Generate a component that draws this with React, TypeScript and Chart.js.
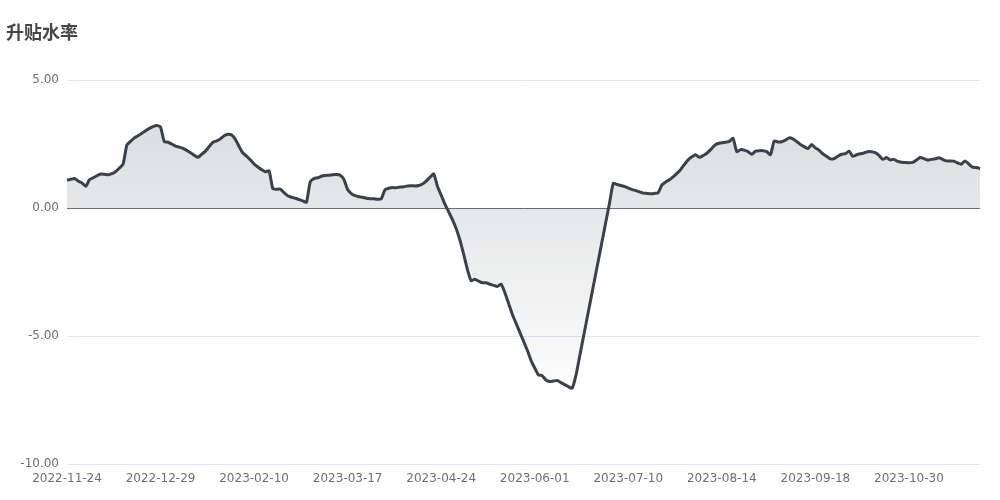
import React, { useEffect, useRef } from 'react';
import { Chart, registerables } from 'chart.js';

Chart.register(...registerables);

const chartTitle = '升贴水率';

// trading days per month (category axis)
const tradingDays: [string, number[]][] = [
  ['2022-11', [24, 25, 28, 29, 30]],
  ['2022-12', [1, 2, 5, 6, 7, 8, 9, 12, 13, 14, 15, 16, 19, 20, 21, 22, 23, 26, 27, 28, 29, 30]],
  ['2023-01', [3, 4, 5, 6, 9, 10, 11, 12, 13, 16, 17, 18, 19, 20, 30, 31]],
  ['2023-02', [1, 2, 3, 6, 7, 8, 9, 10, 13, 14, 15, 16, 17, 20, 21, 22, 23, 24, 27, 28]],
  ['2023-03', [1, 2, 3, 6, 7, 8, 9, 10, 13, 14, 15, 16, 17, 20, 21, 22, 23, 24, 27, 28, 29, 30, 31]],
  ['2023-04', [3, 4, 6, 7, 10, 11, 12, 13, 14, 17, 18, 19, 20, 21, 24, 25, 26, 27, 28]],
  ['2023-05', [4, 5, 8, 9, 10, 11, 12, 15, 16, 17, 18, 19, 22, 23, 24, 25, 26, 29, 30, 31]],
  ['2023-06', [1, 2, 5, 6, 7, 8, 9, 12, 13, 14, 15, 16, 19, 20, 21, 26, 27, 28, 29, 30]],
  ['2023-07', [3, 4, 5, 6, 7, 10, 11, 12, 13, 14, 17, 18, 19, 20, 21, 24, 25, 26, 27, 28, 31]],
  ['2023-08', [1, 2, 3, 4, 7, 8, 9, 10, 11, 14, 15, 16, 17, 18, 21, 22, 23, 24, 25, 28, 29, 30, 31]],
  ['2023-09', [1, 4, 5, 6, 7, 8, 11, 12, 13, 14, 15, 18, 19, 20, 21, 22, 25, 26, 27, 28]],
  ['2023-10', [7, 9, 10, 11, 12, 13, 16, 17, 18, 19, 20, 23, 24, 25, 26, 27, 30, 31]],
  ['2023-11', [1, 2, 3, 6, 7, 8, 9, 10, 13, 14, 15, 16, 17, 20, 21, 22, 23, 24]],
];

const basisRate: number[] = [
  1.09, 1.12, 1.15, 1.05, 0.98, 0.85, 1.1, 1.18, 1.26, 1.33,
  1.32, 1.3, 1.34, 1.42, 1.56, 1.72, 2.46, 2.6, 2.74, 2.82,
  2.92, 3.02, 3.11, 3.18, 3.22, 3.16, 2.59, 2.57, 2.5, 2.42,
  2.38, 2.33, 2.25, 2.16, 2.06, 1.98, 2.1, 2.22, 2.4, 2.57,
  2.62, 2.7, 2.82, 2.88, 2.85, 2.68, 2.4, 2.15, 2.03, 1.88,
  1.72, 1.6, 1.5, 1.42, 1.45, 0.76, 0.73, 0.74, 0.6, 0.48,
  0.42, 0.38, 0.33, 0.28, 0.23, 1.02, 1.15, 1.18, 1.24, 1.27,
  1.28, 1.3, 1.31, 1.28, 1.12, 0.72, 0.56, 0.48, 0.44, 0.42,
  0.38, 0.36, 0.36, 0.34, 0.36, 0.72, 0.77, 0.8, 0.79, 0.82,
  0.83, 0.86, 0.87, 0.86, 0.88, 0.94, 1.05, 1.2, 1.33, 0.85,
  0.5, 0.15, -0.15, -0.45, -0.8, -1.25, -1.8, -2.4, -2.84, -2.78,
  -2.86, -2.92, -2.92, -2.98, -3.02, -3.07, -2.98, -3.3, -3.72, -4.15,
  -4.5, -4.85, -5.2, -5.55, -5.95, -6.25, -6.52, -6.55, -6.72, -6.78,
  -6.76, -6.74, -6.82, -6.9, -6.98, -7.04, -6.55, -5.8, -5.05, -4.3,
  -3.55, -2.8, -2.05, -1.3, -0.55, 0.2, 0.96, 0.92, 0.88, 0.84,
  0.78, 0.72, 0.68, 0.63, 0.58, 0.57, 0.56, 0.57, 0.6, 0.9,
  1.02, 1.1, 1.22, 1.35, 1.5, 1.7, 1.88, 2.0, 2.08, 1.98,
  2.05, 2.14, 2.28, 2.44, 2.52, 2.55, 2.57, 2.6, 2.72, 2.2,
  2.28, 2.26, 2.2, 2.1, 2.22, 2.24, 2.24, 2.2, 2.08, 2.62,
  2.58, 2.59, 2.65, 2.74, 2.7, 2.6, 2.48, 2.4, 2.32, 2.48,
  2.35, 2.25, 2.12, 2.02, 1.92, 1.93, 2.02, 2.1, 2.12, 2.22,
  2.02, 2.08, 2.12, 2.15, 2.2, 2.2, 2.16, 2.06, 1.9, 1.97,
  1.88, 1.9, 1.82, 1.79, 1.78, 1.77, 1.78, 1.87, 1.97, 1.93,
  1.87, 1.9, 1.92, 1.96, 1.9, 1.84, 1.84, 1.83, 1.76, 1.71,
  1.84, 1.72, 1.6, 1.58, 1.54,
];

const yMin = -10;
const yMax = 5;
const yStep = 5;
const xLabelEvery = 25;

const categories: string[] = tradingDays.flatMap(([m, days]) =>
  days.map((d) => `${m}-${String(d).padStart(2, '0')}`)
);

export default function App() {
  const canvasRef = useRef<HTMLCanvasElement | null>(null);

  useEffect(() => {
    if (!canvasRef.current) return;
    const lineColor = '#3a414c';
    const chart = new Chart(canvasRef.current, {
      type: 'line',
      data: {
        labels: categories,
        datasets: [
          {
            label: chartTitle,
            data: basisRate,
            borderColor: lineColor,
            borderWidth: 3,
            pointRadius: 0,
            pointHoverRadius: 0,
            tension: 0.2,
            fill: 'origin',
            backgroundColor: (ctx: any) => {
              const c = ctx.chart;
              if (!c.chartArea || !c.scales.y) return 'rgba(59,67,78,0.12)';
              const ys = c.scales.y;
              const top = ys.getPixelForValue(Math.max(...basisRate));
              const bot = ys.getPixelForValue(Math.min(...basisRate));
              const g = c.ctx.createLinearGradient(0, top, 0, bot);
              g.addColorStop(0, 'rgba(59,67,78,0.18)');
              g.addColorStop(1, 'rgba(59,67,78,0.01)');
              return g;
            },
          },
        ],
      },
      options: {
        responsive: false,
        animation: false,
        layout: { padding: { left: 6, right: 20, top: 0, bottom: 0 } },
        plugins: {
          legend: { display: false },
          tooltip: { enabled: false },
          title: {
            display: true,
            text: chartTitle,
            align: 'start',
            color: '#464646',
            font: { size: 18, weight: 'bold', family: '"Noto Sans CJK SC", "Noto Sans", sans-serif' },
            padding: { top: 21, bottom: 37.4 },
          },
        },
        scales: {
          x: {
            type: 'category',
            offset: false,
            grid: { display: false, drawTicks: false },
            border: { display: false },
            ticks: {
              autoSkip: false,
              maxRotation: 0,
              minRotation: 0,
              padding: 8,
              color: '#6E7079',
              font: { size: 12, family: '"DejaVu Sans", sans-serif' },
              callback: (_v: any, i: number) => (i % xLabelEvery === 0 ? categories[i] : null),
            },
            afterFit: (s: any) => {
              s.height = 36;
            },
          },
          y: {
            min: yMin,
            max: yMax,
            grid: {
              drawTicks: false,
              color: (ctx: any) => (ctx.tick && ctx.tick.value === 0 ? '#6E7079' : '#E0E6F1'),
              lineWidth: 1,
            },
            border: { display: false },
            ticks: {
              stepSize: yStep,
              padding: 8,
              color: '#6E7079',
              font: { size: 12, family: '"DejaVu Sans", sans-serif' },
              callback: (v: any) => Number(v).toFixed(2),
            },
            afterFit: (s: any) => {
              s.width = 61;
            },
          },
        },
      },
    });
    return () => chart.destroy();
  }, []);

  return (
    <div style={{ position: 'absolute', left: 0, top: 0, width: 1000, height: 500, background: '#fff' }}>
      <canvas ref={canvasRef} width={1000} height={500} style={{ display: 'block' }} />
    </div>
  );
}
